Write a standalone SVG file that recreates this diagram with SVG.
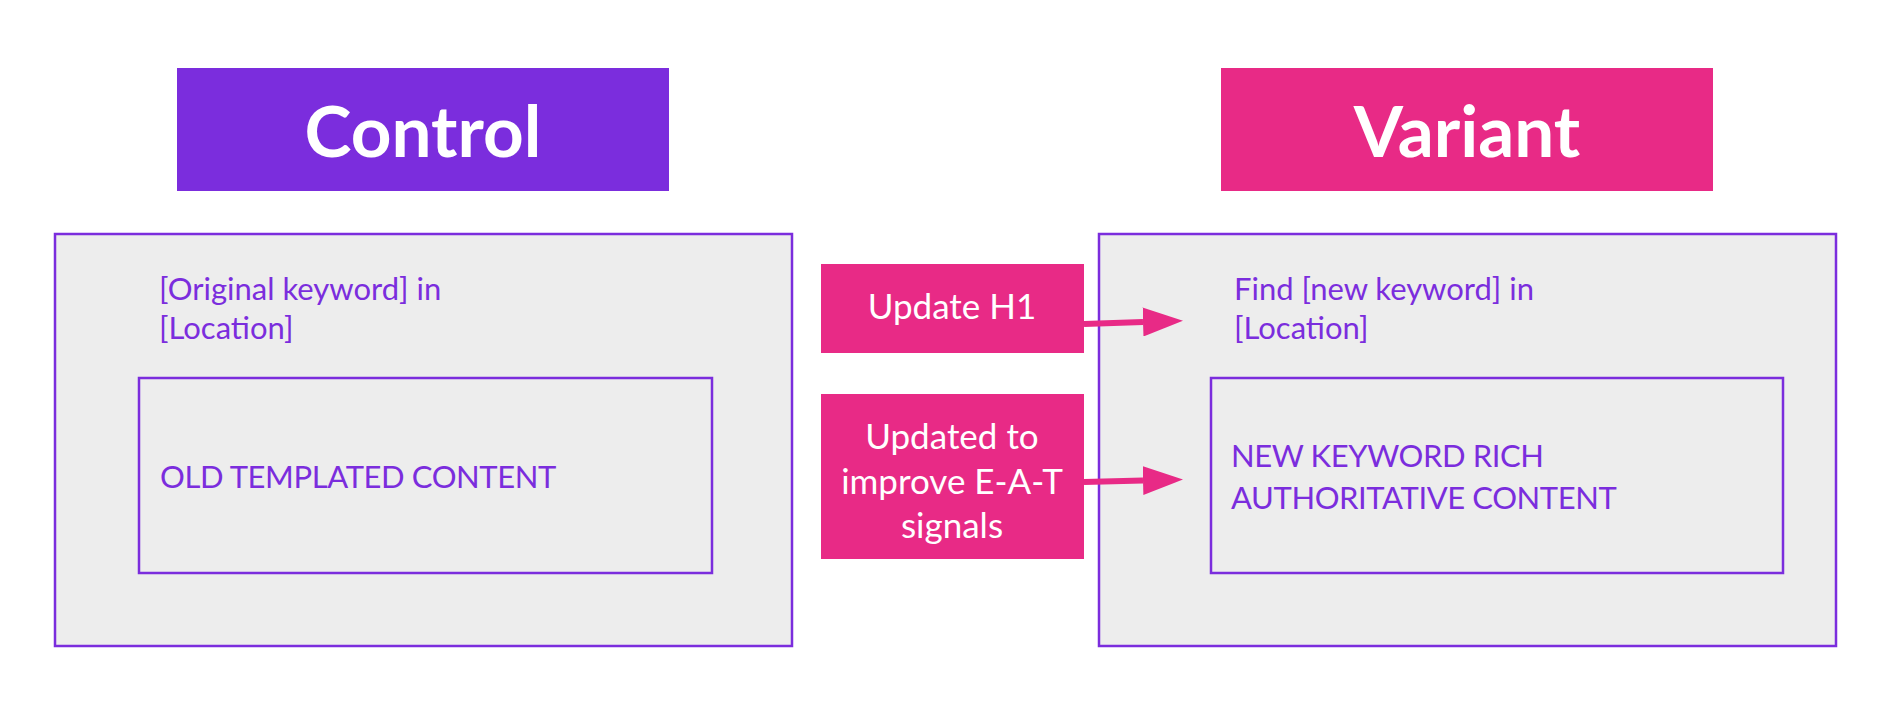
<svg xmlns="http://www.w3.org/2000/svg" width="1892" height="719" viewBox="0 0 1892 719">
  <style>
    .hdr { font-family: Lato, "Open Sans", sans-serif; font-size: 71px; font-weight: 700; fill: #ffffff; text-anchor: middle; }
    .panel { fill: #ededed; stroke: #7b2ddd; stroke-width: 2.5; }
    .txt { font-family: Lato, "Open Sans", sans-serif; font-size: 31px; fill: #7b2ddd; }
    .cap { letter-spacing: -0.4px; }
    .pink { fill: #e82a86; }
    .ptxt { font-family: Lato, "Open Sans", sans-serif; font-size: 35px; fill: #ffffff; text-anchor: middle; }
    .conn { stroke: #e82a86; stroke-width: 6; fill: none; }
  </style>
  <defs>
    <marker id="arrow" viewBox="0 0 40 29" refX="0" refY="14.5" markerWidth="40" markerHeight="29" markerUnits="userSpaceOnUse" orient="auto">
      <path d="M0,0 L40,14.5 L0,29 Z" fill="#e82a86"/>
    </marker>
  </defs>
  <rect width="1892" height="719" fill="#ffffff"/>

  <g id="control-header">
    <rect x="177" y="68" width="492" height="123" fill="#7b2ddd"/>
    <text class="hdr" x="423" y="157">Control</text>
  </g>
  <g id="variant-header">
    <rect x="1221" y="68" width="492" height="123" fill="#e82a86"/>
    <text class="hdr" x="1467" y="157">Variant</text>
  </g>

  <g id="control-panel">
    <rect class="panel" x="55" y="234" width="737" height="412"/>
    <text class="txt" x="159" y="300">[Original keyword] in</text>
    <text class="txt" x="159" y="339">[Location]</text>
  </g>
  <g id="control-content">
    <rect class="panel" x="139" y="378" width="573" height="195"/>
    <text class="txt cap" x="160" y="488">OLD TEMPLATED CONTENT</text>
  </g>

  <g id="variant-panel">
    <rect class="panel" x="1099" y="234" width="737" height="412"/>
    <text class="txt" x="1234" y="300">Find [new keyword] in</text>
    <text class="txt" x="1234" y="339">[Location]</text>
  </g>
  <g id="variant-content">
    <rect class="panel" x="1211" y="378" width="572" height="195"/>
    <text class="txt cap" x="1231" y="467">NEW KEYWORD RICH</text>
    <text class="txt cap" x="1231" y="509">AUTHORITATIVE CONTENT</text>
  </g>

  <g id="update-h1">
    <rect class="pink" x="821" y="264" width="263" height="89"/>
    <text class="ptxt" x="952" y="319">Update H1</text>
  </g>
  <g id="update-eat">
    <rect class="pink" x="821" y="394" width="263" height="165"/>
    <text class="ptxt" x="952" y="449">Updated to</text>
    <text class="ptxt" x="952" y="494">improve E-A-T</text>
    <text class="ptxt" x="952" y="538">signals</text>
  </g>

  <g id="connectors">
    <path class="conn" d="M1084,324 L1143,322" marker-end="url(#arrow)"/>
    <path class="conn" d="M1084,482 L1143,480.5" marker-end="url(#arrow)"/>
  </g>
</svg>
